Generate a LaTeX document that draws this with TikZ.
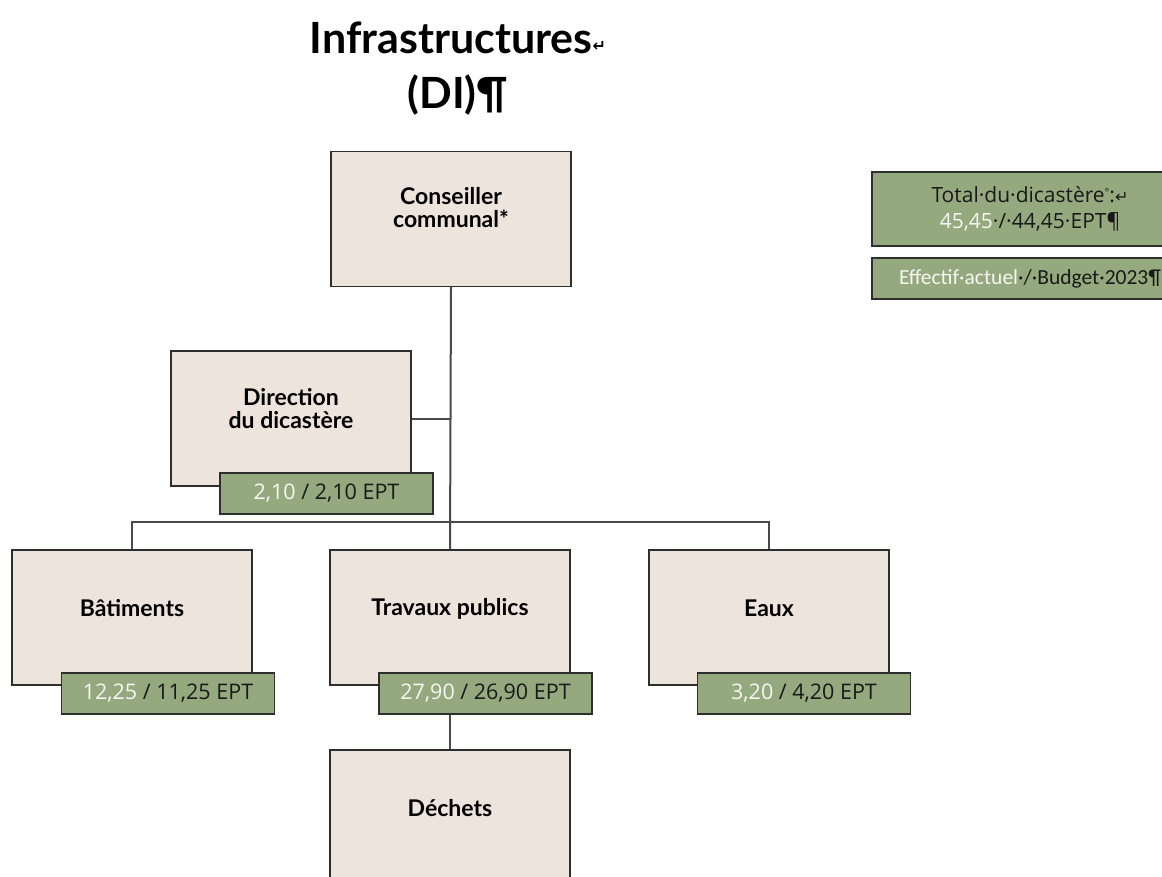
\documentclass[tikz,border=0pt]{standalone}
\usepackage{fontspec}
\setmainfont{Lato}
\newfontfamily\eptfont{Open Sans}
\newfontfamily\calfont{Carlito}
\newfontfamily\symfont{DejaVu Sans}
\definecolor{beige}{HTML}{EDE4DB}
\definecolor{sage}{HTML}{95A97E}
\definecolor{edge}{HTML}{2E2E2E}
\definecolor{wire}{HTML}{4A4A4A}
\definecolor{offwhite}{HTML}{F6F6F2}
\begin{document}
\begin{tikzpicture}[x=1pt,y=-1pt,
  unit/.style={draw=edge,line width=1.4pt,fill=beige,minimum width=240pt,minimum height=135pt,inner sep=0pt},
  unittext/.style={font=\bfseries\fontsize{23}{23}\selectfont,align=center,text=black},
  ept/.style={draw=edge,line width=1.4pt,fill=sage,minimum width=213pt,minimum height=41pt,inner sep=0pt,font=\eptfont\fontsize{21.5}{24}\selectfont,text=black!90},
  wirestyle/.style={draw=wire,line width=2pt},
  infobox/.style={draw=edge,line width=1.4pt,fill=sage,inner sep=0pt,align=center,text=black!90}
]
\useasboundingbox (0,0) rectangle (1162,877);
% title
\node[font=\bfseries\fontsize{43}{55}\selectfont,align=center] (title) at (458,69)
  {Infrastructures{\symfont\fontsize{16}{16}\selectfont\raisebox{2pt}{↵}}\\(DI)¶};
% units
\node[unit] (cons) at (451,219) {};
\node[unit] (dir)  at (291,418.5) {};
\node[unit] (bat)  at (132,617.5) {};
\node[unit] (trav) at (450,617.5) {};
\node[unit] (eaux) at (769,617.5) {};
\node[unit] (dech) at (450,817.5) {};
\node[unittext] (consT) at ([yshift=11pt]cons.center) {Conseiller\\communal*};
\node[unittext] (dirT)  at ([yshift=10pt]dir.center) {Direction\\du dicastère};
\node[unittext] (batT)  at ([yshift=9pt]bat.center) {Bâtiments};
\node[unittext] (travT) at ([yshift=9pt]trav.center) {Travaux publics};
\node[unittext] (eauxT) at ([yshift=9pt]eaux.center) {Eaux};
\node[unittext] (dechT) at ([yshift=9pt]dech.center) {Déchets};
% connectors
\coordinate (bar) at (450,522);
\draw[wirestyle] (cons.south) -- (trav.north);
\draw[wirestyle] (dir.east) -- (dir.east -| cons.south);
\draw[wirestyle] (bat.north) |- (bar) -| (eaux.north);
\draw[wirestyle] (trav.south) -- (dech.north);
% EPT labels
\node[ept] (dirE)  at (326.5,493.5) {\textcolor{offwhite}{2,10} / 2,10 EPT};
\node[ept] (batE)  at (168,693.5) {\textcolor{offwhite}{12,25} / 11,25 EPT};
\node[ept] (travE) at (485.5,693.5) {\textcolor{offwhite}{27,90} / 26,90 EPT};
\node[ept] (eauxE) at (804,693.5) {\textcolor{offwhite}{3,20} / 4,20 EPT};
% totals
\node[infobox,minimum width=316pt,minimum height=74pt,font=\eptfont\fontsize{21}{26}\selectfont] (total) at (1030,209)
  {\raisebox{3pt}{Total·du·dicastère{\fontsize{11}{11}\selectfont\raisebox{6pt}{°}}:{\symfont\fontsize{16}{16}\selectfont↵}}\\\raisebox{3pt}{\textcolor{offwhite}{45,45}·/·44,45·EPT¶}};
\node[infobox,minimum width=316pt,minimum height=41pt,font=\calfont\fontsize{21.5}{24}\selectfont] (legend) at (1030,278.5)
  {\textcolor{offwhite}{Effectif·actuel}·/·Budget·2023¶};
\end{tikzpicture}
\end{document}
